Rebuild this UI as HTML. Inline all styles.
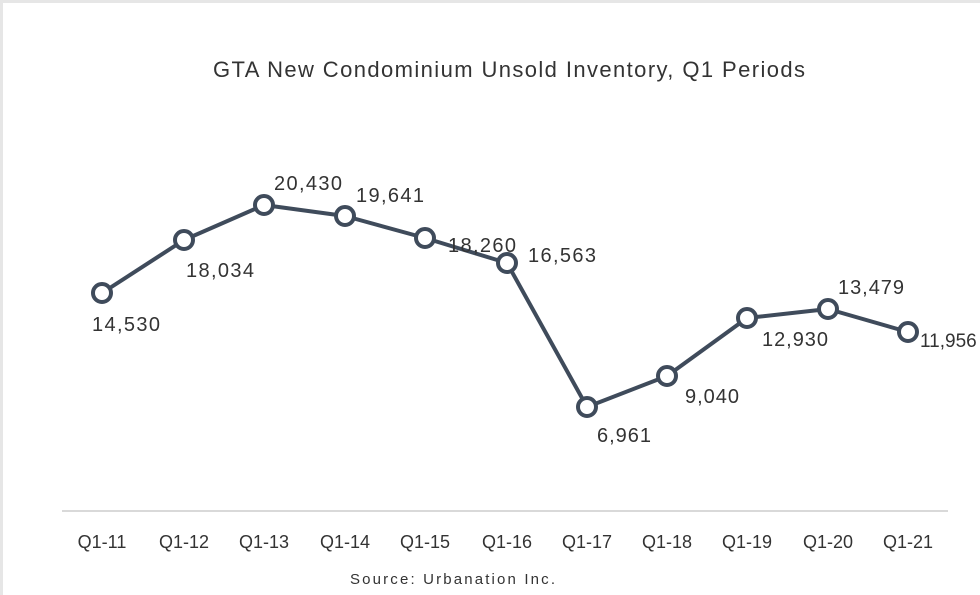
<!DOCTYPE html>
<html><head><style>
html,body{margin:0;padding:0;background:#fff;}
svg{display:block;}
text{font-family:"Liberation Sans",Arial,sans-serif;fill:#333;}
</style></head><body>
<svg width="980" height="595" viewBox="0 0 980 595">
<rect x="0" y="0" width="980" height="595" fill="#fff"/>
<rect x="0" y="0" width="980" height="3" fill="#e6e6e6"/>
<rect x="0" y="0" width="3" height="595" fill="#e6e6e6"/>
<text x="213" y="77" font-size="22" textLength="592" lengthAdjust="spacing">GTA New Condominium Unsold Inventory, Q1 Periods</text>
<line x1="62" y1="511" x2="948" y2="511" stroke="#d9d9d9" stroke-width="2"/>
<g font-size="18" text-anchor="middle">
<text x="102" y="548">Q1-11</text><text x="184" y="548">Q1-12</text><text x="264" y="548">Q1-13</text>
<text x="345" y="548">Q1-14</text><text x="425" y="548">Q1-15</text><text x="507" y="548">Q1-16</text>
<text x="587" y="548">Q1-17</text><text x="667" y="548">Q1-18</text><text x="747" y="548">Q1-19</text>
<text x="828" y="548">Q1-20</text><text x="908" y="548">Q1-21</text>
</g>
<polyline fill="none" stroke="#3f4b5b" stroke-width="4" stroke-linejoin="round" points="102,293 184,240 264,205 345,216 425,238 507,263 587,407 667,376 747,318 828,309 908,332"/>
<g fill="#fff" stroke="#3f4b5b" stroke-width="4">
<circle cx="102" cy="293" r="9"/><circle cx="184" cy="240" r="9"/><circle cx="264" cy="205" r="9"/>
<circle cx="345" cy="216" r="9"/><circle cx="425" cy="238" r="9"/><circle cx="507" cy="263" r="9"/>
<circle cx="587" cy="407" r="9"/><circle cx="667" cy="376" r="9"/><circle cx="747" cy="318" r="9"/>
<circle cx="828" cy="309" r="9"/><circle cx="908" cy="332" r="9"/>
</g>
<g font-size="20" lengthAdjust="spacing">
<text x="92" y="331" textLength="68">14,530</text>
<text x="186" y="277" textLength="68">18,034</text>
<text x="274" y="190" textLength="68">20,430</text>
<text x="356" y="202" textLength="68">19,641</text>
<text x="448" y="252" textLength="68">18,260</text>
<text x="528" y="262" textLength="68">16,563</text>
<text x="597" y="442" textLength="54">6,961</text>
<text x="685" y="403" textLength="54">9,040</text>
<text x="762" y="346" textLength="66">12,930</text>
<text x="838" y="294" textLength="66">13,479</text>
<text x="920" y="347" font-size="19">11,956</text>
</g>
<text x="350" y="584" font-size="15" textLength="205" lengthAdjust="spacing">Source: Urbanation Inc.</text>
</svg>
</body></html>
